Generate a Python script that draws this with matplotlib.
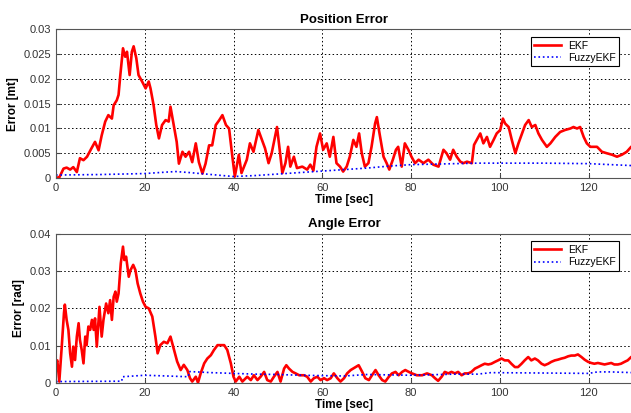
import matplotlib
matplotlib.use("Agg")
import matplotlib.pyplot as plt

plt.rcParams["font.family"] = ["Liberation Sans", "DejaVu Sans"]

# ---- Position error (top panel) ----
POS_EKF_T = [0, 0.8, 1.7, 2.4, 3.2, 3.9, 4.7, 5.4, 6.2, 7.0, 8.0, 8.8, 9.6, 10.3, 11.1, 11.8,
             12.6, 13.0, 13.7, 14.1, 14.5, 15.1, 15.6, 16.0, 16.6, 17.1, 17.5, 18.1, 18.6, 19.4,
             20.2, 20.9, 21.3, 22.0, 22.6, 23.2, 23.9, 24.7, 25.4, 25.8, 26.4, 27.2, 27.7, 28.5,
             29.2, 30.0, 30.7, 31.5, 32.2, 33.0, 33.7, 34.5, 35.2, 36.0, 36.8, 37.5, 38.3, 39.0,
             39.8, 40.3, 41.2, 41.8, 43.0, 43.7, 44.5, 45.6, 46.4, 47.1, 47.9, 48.6, 49.8, 50.5,
             51.0, 51.7, 52.3, 52.8, 53.6, 54.3, 55.5, 56.6, 57.3, 58.0, 58.7, 59.5, 60.2, 61.0,
             61.7, 62.5, 63.2, 64.0, 64.7, 65.5, 66.2, 67.0, 67.7, 68.3, 68.9, 69.6, 70.4, 71.1,
             71.9, 72.3, 72.9, 73.8, 74.5, 75.1, 75.9, 76.6, 77.1, 77.9, 78.6, 79.4, 80.1, 80.9,
             81.7, 82.8, 83.9, 85.0, 86.2, 87.3, 88.0, 88.8, 89.5, 90.3, 91.1, 91.8, 92.6, 93.7,
             94.2, 94.8, 95.6, 96.3, 97.1, 97.8, 98.6, 99.3, 100.1, 100.7, 101.2, 102.0, 102.7,
             103.5, 104.2, 105.0, 105.7, 106.5, 107.2, 108.0, 108.7, 109.5, 110.6, 111.4, 112.5,
             113.6, 114.7, 115.9, 116.6, 117.4, 118.1, 118.9, 119.6, 120.4, 121.9, 123.0, 124.1,
             125.3, 126.4, 127.5, 128.6, 129.6, 130]
POS_EKF = [0, 0.0002, 0.0019, 0.0021, 0.0017, 0.0022, 0.0012, 0.004, 0.0036, 0.0043, 0.006,
           0.0073, 0.0056, 0.0086, 0.0114, 0.0127, 0.012, 0.0147, 0.0157, 0.0168, 0.0208, 0.0262,
           0.0245, 0.0255, 0.0208, 0.0255, 0.0266, 0.0242, 0.0208, 0.0195, 0.0181, 0.0195, 0.0181,
           0.0147, 0.0107, 0.008, 0.0107, 0.0117, 0.0114, 0.0144, 0.0114, 0.0073, 0.0029, 0.0053,
           0.0043, 0.0053, 0.0032, 0.007, 0.0032, 0.0009, 0.0029, 0.0066, 0.0066, 0.0107, 0.0117,
           0.0127, 0.0107, 0.01, 0.0039, 0.0003, 0.0047, 0.001, 0.0037, 0.007, 0.0053, 0.0097,
           0.0077, 0.006, 0.003, 0.005, 0.0103, 0.005, 0.001, 0.003, 0.0063, 0.0023, 0.0043, 0.002,
           0.0023, 0.0017, 0.0027, 0.0015, 0.0063, 0.009, 0.0057, 0.007, 0.0043, 0.0083, 0.003,
           0.0023, 0.0013, 0.0023, 0.0043, 0.0077, 0.0063, 0.009, 0.005, 0.0023, 0.003, 0.0063,
           0.011, 0.0123, 0.009, 0.0043, 0.003, 0.0017, 0.0037, 0.0057, 0.0063, 0.0023, 0.007,
           0.0057, 0.0043, 0.003, 0.0037, 0.003, 0.0037, 0.0027, 0.0023, 0.0057, 0.005, 0.0037,
           0.0057, 0.0043, 0.0033, 0.003, 0.0033, 0.003, 0.0067, 0.0077, 0.009, 0.007, 0.0083,
           0.0063, 0.0077, 0.009, 0.0097, 0.012, 0.011, 0.0103, 0.0077, 0.005, 0.007, 0.009,
           0.0107, 0.0117, 0.0103, 0.0107, 0.009, 0.0077, 0.0063, 0.007, 0.0083, 0.0093, 0.0097,
           0.01, 0.0103, 0.01, 0.0103, 0.0083, 0.007, 0.0063, 0.0063, 0.0053, 0.005, 0.0047,
           0.0043, 0.0047, 0.0053, 0.0063, 0.0065]
POS_FUZZY_T = [0, 10, 20, 25, 27, 30, 35, 40, 45, 50, 55, 60, 65, 70, 75, 80, 85, 90, 95, 100,
               110, 120, 125, 130]
POS_FUZZY = [0.0006, 0.0007, 0.0009, 0.0012, 0.0013, 0.0011, 0.0007, 0.0003, 0.0005, 0.0008,
             0.0011, 0.0014, 0.0017, 0.002, 0.0024, 0.0027, 0.0028, 0.0029, 0.003, 0.003, 0.003,
             0.0029, 0.0027, 0.0025]

# ---- Angle error (bottom panel) ----
ANG_EKF_T = [0, 0.3, 0.75, 1.3, 1.8, 2.0, 2.4, 2.8, 3.2, 3.6, 3.9, 4.3, 4.7, 5.1, 5.4, 5.8, 6.2,
             6.6, 6.9, 7.3, 7.7, 8.1, 8.5, 8.8, 9.2, 9.8, 10.3, 10.7, 11.3, 11.8, 12.2, 12.6, 13.0,
             13.4, 13.7, 14.1, 14.6, 15.1, 15.4, 15.8, 16.4, 16.8, 17.4, 17.9, 18.4, 19.0, 19.6,
             20.2, 20.9, 21.7, 22.4, 22.9, 23.5, 24.3, 25.1, 25.8, 26.6, 27.3, 28.1, 28.8, 29.6,
             30.2, 30.7, 31.5, 32.0, 32.6, 33.4, 34.1, 34.9, 35.6, 36.4, 37.1, 37.9, 38.6, 39.4,
             40.0, 40.5, 41.3, 42.0, 43.1, 43.9, 44.6, 45.4, 46.1, 46.9, 47.6, 48.4, 49.1, 49.9,
             50.6, 51.4, 51.9, 52.5, 53.3, 54.0, 54.8, 55.9, 56.6, 57.4, 58.1, 58.9, 59.6, 60.4,
             61.1, 61.9, 62.6, 63.4, 64.1, 64.9, 65.6, 66.4, 67.5, 68.2, 69.0, 69.7, 70.5, 71.2,
             72.0, 72.7, 73.5, 74.2, 75.0, 75.7, 76.5, 77.2, 78.0, 78.7, 79.5, 80.2, 81.3, 82.5,
             83.6, 84.7, 85.4, 86.1, 86.9, 87.6, 88.4, 89.1, 89.9, 90.6, 91.4, 92.1, 92.9, 93.6,
             94.4, 95.1, 95.9, 96.6, 97.4, 98.1, 98.9, 99.6, 100.4, 101.1, 101.9, 102.6, 103.4,
             104.1, 104.9, 105.6, 106.4, 107.1, 107.9, 108.6, 109.4, 110.1, 110.9, 111.6, 112.4,
             113.1, 113.9, 114.6, 115.4, 116.1, 116.9, 117.6, 118.4, 119.1, 119.9, 120.6, 121.3,
             122.1, 122.8, 123.6, 124.3, 125.1, 125.8, 126.6, 127.3, 128.1, 128.8, 129.6, 130]
ANG_EKF = [0.0052, 0.006, 0.0003, 0.0097, 0.0187, 0.021, 0.0169, 0.0142, 0.0079, 0.0043, 0.0097,
           0.0061, 0.0124, 0.016, 0.0115, 0.0088, 0.0052, 0.0124, 0.0101, 0.0151, 0.0142, 0.0169,
           0.0142, 0.0173, 0.0097, 0.0204, 0.0124, 0.0169, 0.0213, 0.0187, 0.0222, 0.0169, 0.0231,
           0.0245, 0.0218, 0.024, 0.0321, 0.0366, 0.033, 0.0339, 0.0285, 0.0303, 0.0317, 0.0303,
           0.0267, 0.024, 0.0218, 0.0204, 0.02, 0.0178, 0.0124, 0.0079, 0.0101, 0.011, 0.0106,
           0.0124, 0.0088, 0.0057, 0.0034, 0.0048, 0.0034, 0.0012, 0.0003, 0.0016, 0.0, 0.0025,
           0.0052, 0.0065, 0.0074, 0.0088, 0.0101, 0.0101, 0.0101, 0.0088, 0.0052, 0.0016, 0.0003,
           0.0016, 0.0003, 0.0016, 0.0007, 0.002, 0.0007, 0.0016, 0.0029, 0.0007, 0.0003, 0.0016,
           0.0029, 0.0003, 0.0038, 0.0047, 0.0038, 0.0029, 0.0025, 0.002, 0.002, 0.0016, 0.0003,
           0.0012, 0.0016, 0.0007, 0.0012, 0.0007, 0.0012, 0.0025, 0.0012, 0.0003, 0.0012, 0.0025,
           0.0034, 0.0042, 0.0047, 0.0029, 0.0012, 0.0007, 0.002, 0.0034, 0.002, 0.0007, 0.0003,
           0.0016, 0.0025, 0.0029, 0.002, 0.0029, 0.0034, 0.0029, 0.0025, 0.002, 0.002, 0.0025,
           0.002, 0.0012, 0.0005, 0.0016, 0.0029, 0.0025, 0.0029, 0.0025, 0.0029, 0.002, 0.0025,
           0.0025, 0.0029, 0.0038, 0.0042, 0.0047, 0.0051, 0.0049, 0.0051, 0.0056, 0.006, 0.0065,
           0.006, 0.006, 0.0051, 0.0042, 0.0042, 0.0051, 0.006, 0.0069, 0.006, 0.0065, 0.006,
           0.0051, 0.0047, 0.0051, 0.0056, 0.006, 0.0062, 0.0065, 0.0067, 0.0071, 0.0073, 0.0073,
           0.0076, 0.0069, 0.0062, 0.0056, 0.0053, 0.0051, 0.0053, 0.0051, 0.0049, 0.0051, 0.0053,
           0.0049, 0.0049, 0.0051, 0.0056, 0.006, 0.0069, 0.0072]
ANG_FUZZY_T = [0, 14.8, 15.0, 20, 25, 29.8, 30.0, 35, 40, 45, 50, 55, 60, 65, 70, 80, 90, 95, 98,
               110, 120, 122, 125, 130]
ANG_FUZZY = [0.0003, 0.0004, 0.0016, 0.002, 0.0018, 0.0016, 0.003, 0.0027, 0.0025, 0.0023, 0.0022,
             0.002, 0.0019, 0.0018, 0.0022, 0.002, 0.0023, 0.0023, 0.0027, 0.0026, 0.0025, 0.0029,
             0.0029, 0.0027]

X_TICKS = [0, 20, 40, 60, 80, 100, 120]
POS_Y_TICKS = [0, 0.005, 0.01, 0.015, 0.02, 0.025, 0.03]
POS_Y_LABELS = ["0", "0.005", "0.01", "0.015", "0.02", "0.025", "0.03"]
ANG_Y_TICKS = [0, 0.01, 0.02, 0.03, 0.04]
ANG_Y_LABELS = ["0", "0.01", "0.02", "0.03", "0.04"]


def style_axes(ax, yticks, ylabels, ylabel, title):
    ax.set_xlim(0, 130)
    ax.set_ylim(yticks[0], yticks[-1])
    ax.set_xticks(X_TICKS)
    ax.set_yticks(yticks)
    ax.set_yticklabels(ylabels)
    ax.tick_params(direction="in", labelsize=8, labelcolor="#333333", length=3, color="#444444")
    ax.grid(True, color="black", linestyle=(0, (1.5, 2.5)), linewidth=0.7)
    for spine in ax.spines.values():
        spine.set_color("#555555")
        spine.set_linewidth(0.8)
    ax.set_xlabel("Time [sec]", fontsize=8.5, fontweight="bold", labelpad=1)
    ax.set_ylabel(ylabel, fontsize=8.5, fontweight="bold", labelpad=3)
    ax.set_title(title, fontsize=9.5, fontweight="bold", pad=5)
    leg = ax.legend(loc="upper right", bbox_to_anchor=(0.985, 0.985), fontsize=7.5,
                    fancybox=False, framealpha=1, edgecolor="black", handlelength=2.6,
                    borderpad=0.35, labelspacing=0.2, handletextpad=0.6)
    leg.get_frame().set_linewidth(0.8)


fig = plt.figure(figsize=(6.31, 4.13), dpi=100)
ax1 = fig.add_axes([0.0887, 0.569, 0.9144, 0.3596])
ax2 = fig.add_axes([0.0887, 0.0734, 0.9144, 0.36])

ax1.plot(POS_EKF_T, POS_EKF, color="red", linewidth=1.9, label="EKF")
ax1.plot(POS_FUZZY_T, POS_FUZZY, color="blue", linestyle=":", linewidth=1.2, label="FuzzyEKF")
style_axes(ax1, POS_Y_TICKS, POS_Y_LABELS, "Error [mt]", "Position Error")

ax2.plot(ANG_EKF_T, ANG_EKF, color="red", linewidth=1.9, label="EKF")
ax2.plot(ANG_FUZZY_T, ANG_FUZZY, color="blue", linestyle=":", linewidth=1.2, label="FuzzyEKF")
style_axes(ax2, ANG_Y_TICKS, ANG_Y_LABELS, "Error [rad]", "Angle Error")

fig.savefig("out.png", dpi=100)
